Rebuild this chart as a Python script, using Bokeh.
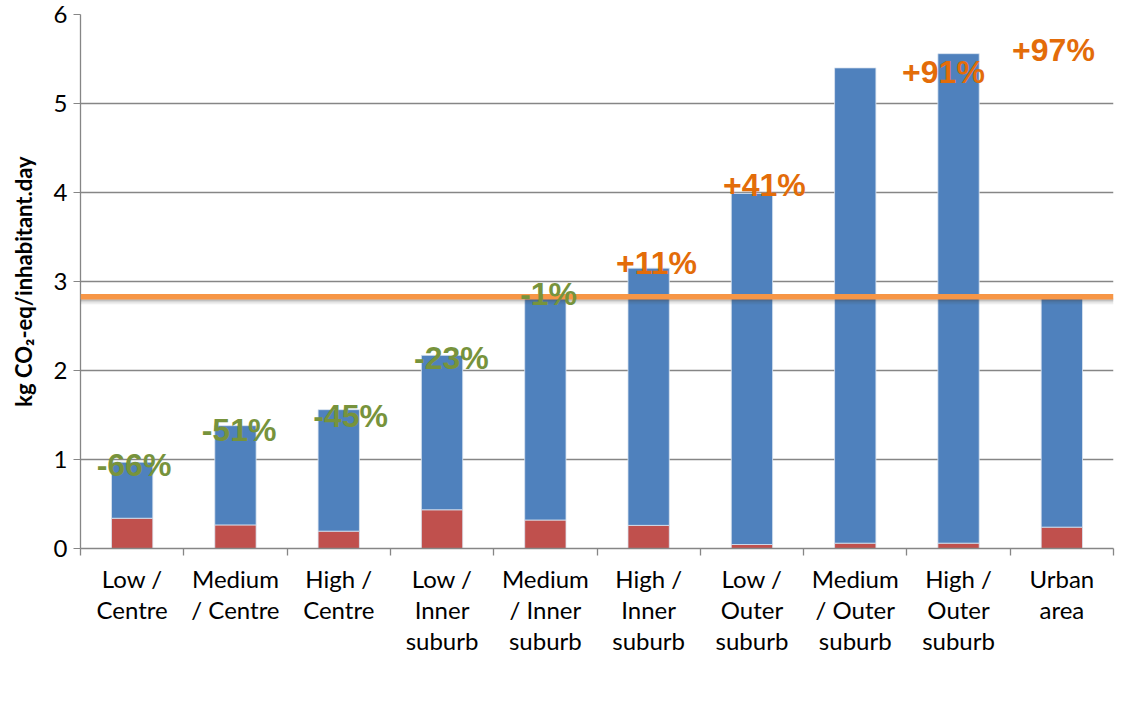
from bokeh.plotting import figure
from bokeh.models import ColumnDataSource, FixedTicker, Legend, LegendItem, Span
from bokeh.core.properties import value
from bokeh.embed import file_html
from bokeh.resources import INLINE

# ---- data ----
categories = ["Low /\nCentre", "Medium\n/ Centre", "High /\nCentre",
              "Low /\nInner\nsuburb", "Medium\n/ Inner\nsuburb", "High /\nInner\nsuburb",
              "Low /\nOuter\nsuburb", "Medium\n/ Outer\nsuburb", "High /\nOuter\nsuburb",
              "Urban\narea"]
total = [0.97, 1.38, 1.56, 2.17, 2.81, 3.15, 3.99, 5.40, 5.56, 2.83]
public_transports = [0.34, 0.265, 0.195, 0.435, 0.32, 0.26, 0.045, 0.06, 0.06, 0.24]
personal_vehicles = [t - p for t, p in zip(total, public_transports)]
reference_level = 2.83  # urban area average

pct_labels = ["-66%", "-51%", "-45%", "-23%", "-1%", "+11%", "+41%", "+91%", "+97%"]
pct_x = [0.518, 1.535, 2.614, 3.591, 4.530, 5.576, 6.621, 8.354, 9.419]
pct_y = [0.937, 1.329, 1.492, 2.145, 2.865, 3.212, 4.084, 5.358, 5.597]
pct_colors = ["#77933C"] * 5 + ["#E36C09"] * 4

y_ticks = [0, 1, 2, 3, 4, 5, 6]

# ---- figure ----
FONT = "Lato"
x_centers = [i + 0.5 for i in range(len(categories))]
x_bounds = [i for i in range(len(categories) + 1)]

p = figure(frame_width=1033, frame_height=534,
           x_range=(0, len(categories)), y_range=(0, 6),
           output_backend="svg", toolbar_location=None,
           min_border_left=80, min_border_right=12, min_border_top=14, min_border_bottom=0)
p.outline_line_color = None
p.background_fill_color = "white"
p.border_fill_color = "white"

src = ColumnDataSource(dict(x=x_centers, personal=personal_vehicles, public=public_transports))
rs = p.vbar_stack(["public", "personal"], x="x", width=0.4, source=src,
                  color=["#C0504D", "#4F81BD"], line_color="#dbe4f0", line_width=0.8)

# reference line with shadow
for k, a in [(1, 0.25), (2, 0.18), (3, 0.12), (4, 0.07), (5, 0.04)]:
    p.add_layout(Span(location=reference_level - 0.012 * k - 0.02, dimension="width",
                      line_color="#404040", line_alpha=a, line_width=2))
p.add_layout(Span(location=reference_level, dimension="width",
                  line_color="#F79646", line_width=5.5))

# percentage labels (drawn above the reference line)
t = p.text(x=pct_x, y=pct_y, text=pct_labels, text_color=pct_colors,
           text_font=value("Liberation Sans"), text_font_style="bold",
           text_font_size="32px", text_align="center", text_baseline="middle")
t.level = "overlay"

# grid
p.xgrid.visible = False
p.ygrid.grid_line_color = "#868686"
p.ygrid.grid_line_width = 1.3
p.ygrid.ticker = FixedTicker(ticks=y_ticks)

# y axis
ya = p.yaxis[0]
ya.ticker = FixedTicker(ticks=y_ticks)
ya.axis_label = "kg CO₂-eq/inhabitant.day"
ya.axis_label_text_font = FONT
ya.axis_label_text_font_style = "bold"
ya.axis_label_text_font_size = "22px"
ya.axis_label_text_color = "black"
ya.axis_label_standoff = 14
ya.major_label_text_font = FONT
ya.major_label_text_font_size = "24px"
ya.major_label_text_color = "black"
ya.axis_line_color = "#868686"
ya.axis_line_width = 1.3
ya.major_tick_line_color = "#868686"
ya.major_tick_out = 7
ya.major_tick_in = 0
ya.minor_tick_line_color = None
ya.major_label_standoff = 6

# x axis
xa = p.xaxis[0]
xa.ticker = FixedTicker(ticks=x_centers, minor_ticks=x_bounds)
xa.major_label_overrides = {c: lab for c, lab in zip(x_centers, categories)}
xa.major_label_text_font = FONT
xa.major_label_text_font_size = "24px"
xa.major_label_text_color = "black"
xa.major_label_text_line_height = 1.07
xa.major_tick_line_color = None
xa.major_tick_out = 7
xa.major_label_standoff = 8
xa.minor_tick_line_color = "#868686"
xa.minor_tick_line_width = 1.3
xa.minor_tick_out = 7
xa.minor_tick_in = 0
xa.axis_line_color = "#868686"
xa.axis_line_width = 1.3

legend = Legend(items=[LegendItem(label="Personal vehicles", renderers=[rs[1]]),
                       LegendItem(label="Public transports", renderers=[rs[0]])],
                orientation="horizontal", location=(286, 0),
                label_text_font=FONT, label_text_font_size="22px",
                glyph_width=15, glyph_height=15, label_standoff=6, spacing=37,
                padding=0, margin=0, border_line_color=None,
                background_fill_alpha=0)
p.add_layout(legend, "below")

open("out.html", "w").write(file_html(p, INLINE))
